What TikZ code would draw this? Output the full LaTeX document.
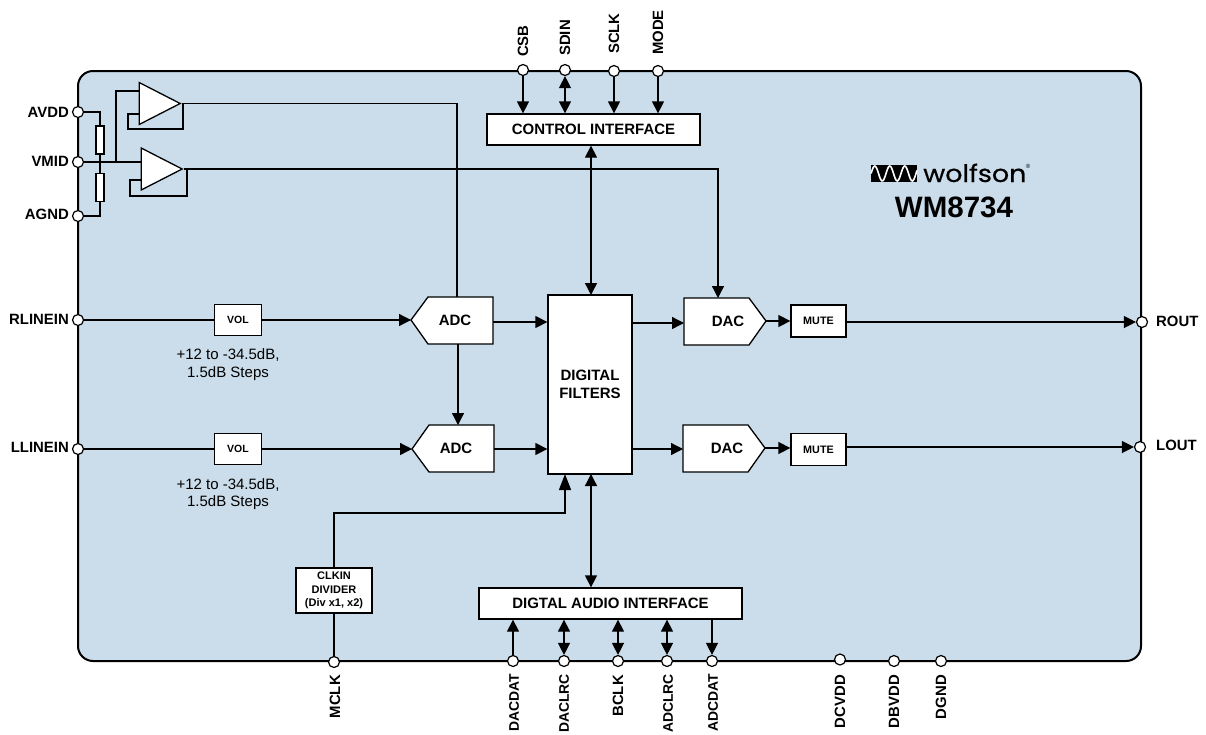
\documentclass[tikz,border=0pt]{standalone}
\usepackage{fontspec}
\setmainfont{Liberation Sans}
\newfontfamily\logofont[FakeBold=0.5]{Poppins}
\newfontfamily\regfont{Liberation Sans}
\usetikzlibrary{arrows.meta,shapes.geometric}
\definecolor{chipblue}{RGB}{203, 221, 234}
\tikzset{
  wire/.style={line width=1.3pt},
  sig/.style={wire, -{Triangle[length=12pt,width=12pt]}},
  sigtall/.style={wire, -{Triangle[length=16pt,width=12pt]}},
  bidir/.style={wire, {Triangle[length=12pt,width=12pt]}-{Triangle[length=12pt,width=12pt]}},
  pin/.style={circle, draw, fill=white, line width=1.2pt, inner sep=0pt, minimum size=11pt},
  pinname/.style={font=\fontsize{14.9}{16}\selectfont\bfseries, inner sep=0pt},
  lowname/.style={font=\fontsize{13.9}{16}\selectfont\bfseries, inner sep=0pt},
  box/.style={draw, fill=white, line width=1.3pt, inner sep=0pt, align=center, font=\fontsize{15}{17.5}\selectfont\bfseries},
  conv/.style={draw, fill=white, line width=1.3pt},
  boxname/.style={inner sep=0pt, font=\fontsize{15}{17.5}\selectfont\bfseries},
  amp/.style={draw, fill=white, line width=1.3pt, isosceles triangle, isosceles triangle stretches, inner sep=0pt, minimum width=42pt, minimum height=41pt},
  res/.style={draw, fill=white, line width=1.2pt, inner sep=0pt, minimum width=8pt, minimum height=28pt},
  note/.style={font=\fontsize{15}{17.5}\selectfont, align=center, inner sep=0pt}
}
\begin{document}
\begin{tikzpicture}[x=1pt,y=-1pt]
  \useasboundingbox (0,0) rectangle (1206,734);
  \node[draw, fill=chipblue, line width=2pt, rounded corners=15pt, minimum width=1063pt, minimum height=590pt] (chip) at (609.5,366) {};

  % pins, left
  \node[pin] (avdd)    at (78,112) {};
  \node[pin] (vmid)    at (78,162) {};
  \node[pin] (agnd)    at (78,216) {};
  \node[pin] (rlinein) at (78,320) {};
  \node[pin] (llinein) at (78,449) {};
  % pins, right
  \node[pin] (rout)    at (1142,322) {};
  \node[pin] (lout)    at (1140,447) {};
  % pins, top
  \node[pin] (csb)     at (523,70) {};
  \node[pin] (sdin)    at (565,70) {};
  \node[pin] (sclk)    at (614,71) {};
  \node[pin] (mode)    at (658,71) {};
  % pins, bottom
  \node[pin] (mclk)    at (334,662) {};
  \node[pin] (dacdat)  at (513,661) {};
  \node[pin] (daclrc)  at (564,661) {};
  \node[pin] (bclk)    at (618,661) {};
  \node[pin] (adclrc)  at (667,661) {};
  \node[pin] (adcdat)  at (712,661) {};
  \node[pin] (dcvdd)   at (840,659.5) {};
  \node[pin] (dbvdd)   at (894,661) {};
  \node[pin] (dgnd)    at (941,661) {};

  % pin names
  \node[pinname, anchor=east] (avddname)    at (69,112) {AVDD};
  \node[pinname, anchor=east] (vmidname)    at (69,161) {VMID};
  \node[pinname, anchor=east] (agndname)    at (69,214) {AGND};
  \node[pinname, anchor=east] (rlineinname) at (69,319) {RLINEIN};
  \node[pinname, anchor=east] (llineinname) at (69,447) {LLINEIN};
  \node[pinname, anchor=west] (routname)    at (1156,321) {ROUT};
  \node[pinname, anchor=west] (loutname)    at (1156,445) {LOUT};
  \node[pinname, rotate=90, anchor=west] (csbname)  at (523,57) {CSB};
  \node[pinname, rotate=90, anchor=west] (sdinname) at (565,56) {SDIN};
  \node[pinname, rotate=90, anchor=west] (sclkname) at (614,54) {SCLK};
  \node[pinname, rotate=90, anchor=west] (modename) at (658,55) {MODE};
  \node[pinname, rotate=90, anchor=east] (mclkname)   at (335,675) {MCLK};
  \node[lowname, rotate=90, anchor=east] (dacdatname) at (514,674) {DACDAT};
  \node[lowname, rotate=90, anchor=east] (daclrcname) at (564,674) {DACLRC};
  \node[pinname, rotate=90, anchor=east] (bclkname)   at (618,675) {BCLK};
  \node[lowname, rotate=90, anchor=east] (adclrcname) at (668,674) {ADCLRC};
  \node[lowname, rotate=90, anchor=east] (adcdatname) at (713,674) {ADCDAT};
  \node[pinname, rotate=90, anchor=east] (dcvddname)  at (840,675) {DCVDD};
  \node[pinname, rotate=90, anchor=east] (dbvddname)  at (894,675) {DBVDD};
  \node[pinname, rotate=90, anchor=east] (dgndname)   at (941,675) {DGND};

  % blocks
  \node[box, minimum width=213pt, minimum height=31pt] (ctrl)  at (593.5,129.5) {CONTROL INTERFACE};
  \node[box, minimum width=263pt, minimum height=31pt] (audio) at (610.5,603.5) {DIGTAL AUDIO INTERFACE};
  \node[box, minimum width=84pt,  minimum height=179pt] (filt) at (590,384.5) {DIGITAL\\FILTERS};
  \filldraw[conv] (411,320) -- (428,297) -- (493,297) -- (493,344) -- (428,344) -- cycle;
  \filldraw[conv] (412,449) -- (429,425) -- (494,425) -- (494,472) -- (429,472) -- cycle;
  \filldraw[conv] (684,298) -- (749,298) -- (766,321) -- (749,345) -- (684,345) -- cycle;
  \filldraw[conv] (683,425) -- (748,425) -- (765,448) -- (748,472) -- (683,472) -- cycle;
  \node[boxname] (adcr) at (455,320) {ADC};
  \node[boxname] (adcl) at (456,448) {ADC};
  \node[boxname] (dacr) at (728,321) {DAC};
  \node[boxname] (dacl) at (727,448) {DAC};
  \node[box, minimum width=47pt, minimum height=31pt, font=\fontsize{10.5}{12}\selectfont\bfseries] (volr) at (238,320) {VOL};
  \node[box, minimum width=47pt, minimum height=31pt, font=\fontsize{10.5}{12}\selectfont\bfseries] (voll) at (238,449) {VOL};
  \node[box, minimum width=55pt, minimum height=32pt, font=\fontsize{10.8}{12}\selectfont\bfseries] (muter) at (818.5,321) {MUTE};
  \node[box, minimum width=55pt, minimum height=32pt, font=\fontsize{10.8}{12}\selectfont\bfseries] (mutel) at (818.5,449.5) {MUTE};
  \node[box, minimum width=76pt, minimum height=45pt, font=\fontsize{11}{13.5}\selectfont\bfseries] (clkdiv) at (334,590.5) {CLKIN\\DIVIDER\\(Div x1, x2)};
  \node[amp] (ampa) at (152,103.5) {};
  \node[amp] (ampb) at (154,169) {};
  \node[res] (rtop) at (100,140) {};
  \node[res] (rbot) at (100,187.5) {};

  % ends of the wires on the converters
  \coordinate (adcrin)  at (411,320);
  \coordinate (adclin)  at (412,449);
  \coordinate (adcrout) at (493,322);
  \coordinate (adclout) at (494,449);
  \coordinate (adcrtop) at (457,297);
  \coordinate (adcrbot) at (458,344);
  \coordinate (adcltop) at (458,425);
  \coordinate (dacrin)  at (684,323);
  \coordinate (daclin)  at (683,449);
  \coordinate (dacrout) at (766,321);
  \coordinate (daclout) at (765,448);
  \coordinate (dacrtop) at (718,298);
  % free ends of the buffer wiring
  \coordinate (vtap) at (116,162);
  \coordinate (ampatop) at (139,91);
  \coordinate (ampafb) at (139,114);
  \coordinate (ampbfb) at (141,180);
  \coordinate (clkbend) at (565,513);
  \coordinate (filtclk) at (565,474);
  \coordinate (filtctrl) at (591,295);
  \coordinate (filtaudio) at (591,474);

  % supply and buffers
  \draw[wire] (avdd) -| (rtop.north);
  \draw[wire] (rtop.south) -- (rbot.north);
  \draw[wire] (rbot.south) |- (agnd);
  \draw[wire] (vmid) -- (ampb.west |- vmid);
  \draw[wire] (vtap) |- (ampatop);
  \draw[wire] (ampafb) -- ++(-11,0) -- ++(0,15) -- ++(55,0) -- (183,103.5);
  \draw[wire] (ampbfb) -- ++(-11,0) -- ++(0,16) -- ++(57,0) -- (187,169);
  \draw[wire] (ampa.apex) -| (adcrtop);
  \draw[sig] (ampb.apex) -| (dacrtop);

  % signal paths
  \draw[wire] (rlinein) -- (volr);
  \draw[sig] (volr) -- (adcrin);
  \draw[wire] (llinein) -- (voll);
  \draw[sig] (voll) -- (adclin);
  \draw[sig] (adcrout) -- (filt.west |- adcrout);
  \draw[sig] (adclout) -- (filt.west |- adclout);
  \draw[sig] (adcrbot) -- (adcltop);
  \draw[sig] (filt.east |- dacrin) -- (dacrin);
  \draw[sig] (filt.east |- daclin) -- (daclin);
  \draw[sig] (dacrout) -- (muter);
  \draw[sig] (daclout) -- (mutel.west |- daclout);
  \draw[sig] (muter.east |- rout) -- (rout);
  \draw[sig] (mutel.east |- lout) -- (lout);

  % control and audio interfaces
  \draw[sig] (csb) -- (csb |- ctrl.north);
  \draw[bidir] (sdin) -- (sdin |- ctrl.north);
  \draw[sig] (sclk) -- (sclk |- ctrl.north);
  \draw[sig] (mode) -- (mode |- ctrl.north);
  \draw[bidir] (filtctrl) -- (filtctrl |- ctrl.south);
  \draw[bidir] (filtaudio) -- (filtaudio |- audio.north);
  \draw[sig] (dacdat) -- (dacdat |- audio.south);
  \draw[bidir] (daclrc) -- (daclrc |- audio.south);
  \draw[bidir] (bclk) -- (bclk |- audio.south);
  \draw[bidir] (adclrc) -- (adclrc |- audio.south);
  \draw[sig] (audio.south -| adcdat) -- (adcdat);

  % master clock
  \draw[wire] (mclk) -- (clkdiv);
  \draw[sigtall] (clkdiv) |- (clkbend) -- (filtclk);

  % notes
  \node[note] (volrnote) at (228,364.5) {+12 to -34.5dB,\\1.5dB Steps};
  \node[note] (vollnote) at (228,494) {+12 to -34.5dB,\\1.5dB Steps};

  % logo and part number
  \fill (871,165) rectangle (917,182);
  \draw[white, line width=1.6pt] plot[domain=871:917, samples=60, smooth] (\x, {173.5 - 7.5*sin(24*(\x-871))});
  \node[inner sep=0pt, anchor=base west, font=\logofont\fontsize{24}{24}\selectfont, xscale=1.12, transform shape] (wolfson) at (923,182) {wolfson};
  \node[inner sep=0pt, font=\regfont\fontsize{6}{6}\selectfont] (regmark) at (1028,166) {®};
  \node[inner sep=0pt, font=\fontsize{29.5}{30}\selectfont\bfseries] (partname) at (954,207) {WM8734};
\end{tikzpicture}
\end{document}
